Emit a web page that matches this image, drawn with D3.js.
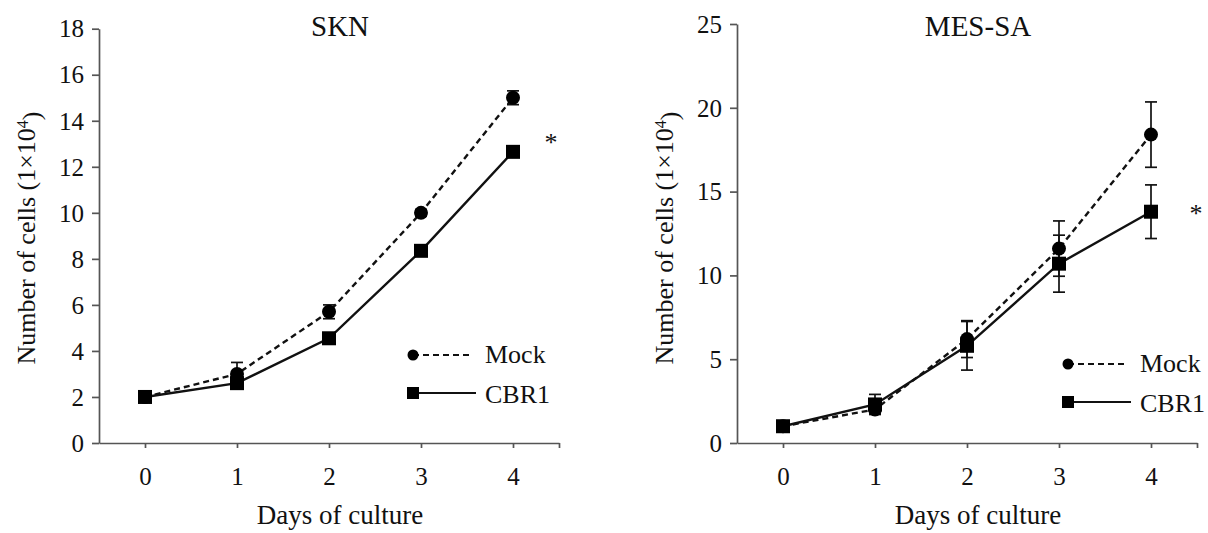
<!DOCTYPE html>
<html>
<head>
<meta charset="utf-8">
<script src="https://d3js.org/d3.v7.min.js"></script>
<style>
  body { margin: 0; background: #fff; }
  svg text { font-family: "Liberation Serif", "DejaVu Serif", serif; fill: #111; }
</style>
</head>
<body>
<svg id="chart" width="1208" height="533"></svg>
<script>
// data (cell counts, x10^4)
var days = [0, 1, 2, 3, 4];
var seriesNames = ["Mock", "CBR1"];

var sknMock     = [2.0, 3.0, 5.7, 10.0, 15.0];
var sknMockErr  = [0.05, 0.5, 0.3, 0.15, 0.3];
var sknCbr1     = [2.0, 2.6, 4.55, 8.35, 12.65];
var sknCbr1Err  = [0.05, 0.15, 0.1, 0.1, 0.1];
var sknTicks    = [0, 2, 4, 6, 8, 10, 12, 14, 16, 18];

var mesMock     = [1.0, 2.0, 6.2, 11.6, 18.4];
var mesMockErr  = [0.1, 0.25, 1.1, 1.65, 1.95];
var mesCbr1     = [1.0, 2.3, 5.8, 10.7, 13.8];
var mesCbr1Err  = [0.1, 0.6, 1.45, 1.7, 1.6];
var mesTicks    = [0, 5, 10, 15, 20, 25];

var svg = d3.select("#chart");

function drawPanel(p) {
    var x = d3.scaleLinear().domain([-0.5, 4.5]).range([p.left, p.left + 460]);
    var y = d3.scaleLinear().domain([0, p.ymax]).range([443, p.top]);
    var g = svg.append("g");

    // axes
    var ya = g.append("g")
        .attr("transform", "translate(" + p.left + ",0)")
        .call(d3.axisLeft(y).tickValues(p.ticks).tickSize(7).tickSizeOuter(0).tickPadding(8));
    var xa = g.append("g")
        .attr("transform", "translate(0,443)")
        .call(d3.axisBottom(x).tickValues([0, 1, 2, 3, 4, 4.5])
            .tickFormat(function (d) { return d === 4.5 ? "" : d; })
            .tickSize(5).tickSizeOuter(0));
    [ya, xa].forEach(function (a) {
        a.selectAll("path, line").attr("stroke", "#555").attr("stroke-width", 1.7);
        a.selectAll("text").style("font-size", "25px").style("font-family", "Liberation Serif").attr("fill", "#111");
    });
    xa.selectAll("text").attr("y", 42).attr("dy", "0");
    ya.selectAll("text").attr("dy", "0.33em");

    // titles / labels
    var cx = x(2.12);
    g.append("text").attr("x", cx).attr("y", 36).attr("text-anchor", "middle")
        .style("font-size", "29px").text(p.title);
    g.append("text").attr("x", cx).attr("y", 524).attr("text-anchor", "middle")
        .style("font-size", "27px").text("Days of culture");
    var yl = g.append("text")
        .attr("transform", "translate(" + (p.left - 73) + "," + 238 + ")rotate(-90)")
        .attr("text-anchor", "middle").attr("dy", "0.35em")
        .style("font-size", "26px");
    yl.append("tspan").text("Number of cells (1\u00d710");
    yl.append("tspan").attr("dy", "-0.45em").style("font-size", "16px").text("4");
    yl.append("tspan").attr("dy", "0.45em").text(")");

    var series = [
        { name: seriesNames[0], vals: p.mock, err: p.mockErr, dash: "6,4", shape: "circle" },
        { name: seriesNames[1], vals: p.cbr1, err: p.cbr1Err, dash: null, shape: "square" }
    ];

    var line = d3.line()
        .x(function (d, i) { return x(days[i]); })
        .y(function (d) { return y(d); });

    series.forEach(function (s) {
        // error bars
        var eb = g.append("g");
        days.forEach(function (dd, i) {
            var hi = y(s.vals[i] + s.err[i]), lo = y(s.vals[i] - s.err[i]), xx = x(dd);
            eb.append("line").attr("x1", xx).attr("x2", xx).attr("y1", hi).attr("y2", lo);
            eb.append("line").attr("x1", xx - 6).attr("x2", xx + 6).attr("y1", hi).attr("y2", hi);
            eb.append("line").attr("x1", xx - 6).attr("x2", xx + 6).attr("y1", lo).attr("y2", lo);
        });
        eb.selectAll("line").attr("stroke", "#111").attr("stroke-width", 1.7);

        g.append("path").datum(s.vals)
            .attr("d", line)
            .attr("fill", "none").attr("stroke", "#111").attr("stroke-width", 2.4)
            .attr("stroke-dasharray", s.dash);
    });

    // markers on top
    series.forEach(function (s) {
        s.vals.forEach(function (v, i) {
            if (s.shape === "circle") {
                g.append("circle").attr("cx", x(days[i])).attr("cy", y(v)).attr("r", 7).attr("fill", "#000");
            } else {
                g.append("rect").attr("x", x(days[i]) - 7).attr("y", y(v) - 7)
                    .attr("width", 14).attr("height", 14).attr("fill", "#000");
            }
        });
    });

    // significance mark
    g.append("text").attr("x", p.star[0]).attr("y", p.star[1]).attr("text-anchor", "middle")
        .style("font-size", "26px").text("*");

    // legend
    var lg = g.append("g").attr("transform", "translate(" + p.legend[0] + "," + p.legend[1] + ")");
    lg.append("line").attr("x1", 0).attr("x2", 58).attr("y1", 0).attr("y2", 0)
        .attr("stroke", "#111").attr("stroke-width", 2.2).attr("stroke-dasharray", "6,4");
    lg.append("circle").attr("cx", 0).attr("cy", 0).attr("r", 5.5).attr("fill", "#000");
    lg.append("text").attr("x", 72).attr("y", 8).style("font-size", "26px").text(seriesNames[0]);
    lg.append("line").attr("x1", 0).attr("x2", 63).attr("y1", 38).attr("y2", 38)
        .attr("stroke", "#111").attr("stroke-width", 2.2);
    lg.append("rect").attr("x", -6).attr("y", 32).attr("width", 12).attr("height", 12).attr("fill", "#000");
    lg.append("text").attr("x", 72).attr("y", 48).style("font-size", "26px").text(seriesNames[1]);
}

drawPanel({ title: "SKN", left: 99, top: 28.7, ymax: 18, ticks: sknTicks,
    mock: sknMock, mockErr: sknMockErr, cbr1: sknCbr1, cbr1Err: sknCbr1Err,
    star: [551, 151], legend: [413, 355] });

drawPanel({ title: "MES-SA", left: 737, top: 24, ymax: 25, ticks: mesTicks,
    mock: mesMock, mockErr: mesMockErr, cbr1: mesCbr1, cbr1Err: mesCbr1Err,
    star: [1196, 222], legend: [1068, 364] });
</script>
</body>
</html>
